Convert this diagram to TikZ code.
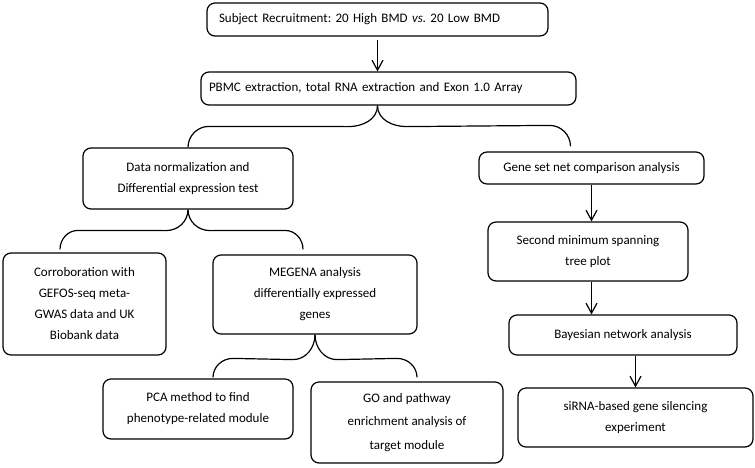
\documentclass[tikz,border=0pt]{standalone}
\usepackage{fontspec}
\setmainfont{Carlito}
\usetikzlibrary{arrows.meta,calc}
\frenchspacing

\begin{document}
\begin{tikzpicture}[x=1pt, y=1pt,
  box/.style={draw, rounded corners=8pt, line width=1.2pt, align=center, inner sep=0pt, font=\fontsize{13}{21}\selectfont},
  arr/.style={line width=1.2pt, -{Straight Barb[length=10pt,width=11pt]}},
  brace/.style={line width=1.2pt}]
\useasboundingbox (0,0) rectangle (755,-467);

% Nodes
\node[box, minimum height=33pt, inner xsep=12pt, text width=317pt, align=left] (recruit) at (377.5,-19.5) {Subject Recruitment: 20 High BMD \textit{vs.} 20 Low BMD};
\node[box, minimum height=33pt, inner xsep=8pt, text width=359pt, align=left] (pbmc) at (388.5,-88.5) {PBMC extraction, total RNA extraction and Exon 1.0 Array};

\node[box, minimum width=210pt, minimum height=61pt] (norm) at (188,-178.5) {Data normalization and\\Differential expression test};
\node[box, minimum width=225pt, minimum height=32pt] (gene) at (591.5,-168) {Gene set net comparison analysis};

\node[box, minimum width=163pt, minimum height=102pt] (corr) at (84.5,-304) {Corroboration with\\GEFOS-seq meta-\\GWAS data and UK\\Biobank data};
\node[box, minimum width=204pt, minimum height=79pt] (megena) at (315,-294.5) {MEGENA analysis\\differentially expressed\\genes};

\node[box, minimum width=190pt, minimum height=60pt] (pca) at (198,-409) {PCA method to find\\phenotype-related module};
\node[box, minimum width=192pt, minimum height=81pt, font=\fontsize{13}{23.5}\selectfont] (go) at (407,-422.5) {GO and pathway\\enrichment analysis of\\target module};

\node[box, minimum width=200pt, minimum height=59pt] (second) at (588,-251.5) {Second minimum spanning\\tree plot};
\node[box, minimum width=228pt, minimum height=40pt] (bayes) at (623,-335) {Bayesian network analysis};
\node[box, minimum width=235pt, minimum height=59pt] (sirna) at (635.5,-417.5) {siRNA-based gene silencing\\experiment};

% Arrows
\draw[arr] ([yshift=-3pt]recruit.south) -- (recruit |- pbmc.north);
\draw[arr] (gene.south) -- (gene.south |- second.north);
\draw[arr] (gene.south |- second.south) -- (gene.south |- bayes.north);
\draw[arr] (sirna.north |- bayes.south) -- (sirna.north);

% Braces
\draw[brace] (recruit |- pbmc.south) to[out=-90,in=0] ++(-29,-21)
  -- ($(norm.north)+(21,21)$) to[out=180,in=90] (norm.north);
\draw[brace] (recruit |- pbmc.south) to[out=-90,in=180] ++(29,-21)
  -- ($(gene.north)+(-42,26)$) to[out=0,in=90] ($(gene.north)+(-21,5)$);

\draw[brace] (norm.south) to[out=-90,in=0] ++(-22,-21)
  -- ($(corr.north)+(-6.5,22)$) to[out=180,in=90] ($(corr.north)+(-24.5,3)$);
\draw[brace] (norm.south) to[out=-90,in=180] ++(22,-21)
  -- ($(megena.north)+(-30,24)$) to[out=0,in=90] ($(megena.north)+(-12,5)$);

\draw[brace] (megena.south) to[out=-90,in=0] ++(-22,-25)
  -- ($(pca.north)+(35,20)$) to[out=180,in=90] ($(pca.north)+(15,1)$);
\draw[brace] (megena.south) to[out=-90,in=180] ++(22,-25)
  -- ($(go.north)+(-10,23)$) to[out=0,in=90] ($(go.north)+(10,4)$);

\end{tikzpicture}
\end{document}
